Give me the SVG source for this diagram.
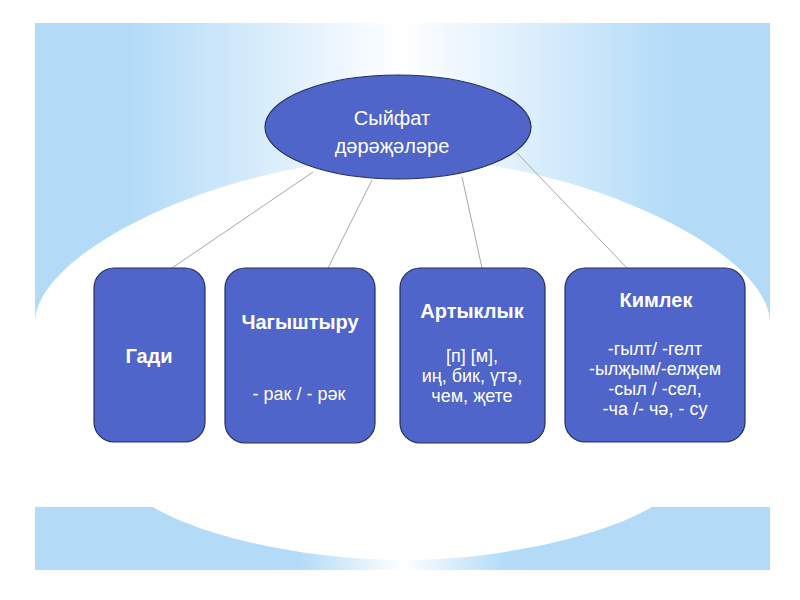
<svg xmlns="http://www.w3.org/2000/svg" width="800" height="600" viewBox="0 0 800 600">
<defs>
<linearGradient id="gTop" gradientUnits="userSpaceOnUse" x1="35" y1="0" x2="770" y2="0">
<stop offset="0" stop-color="#b3dbf8"/>
<stop offset="0.13" stop-color="#b3dbf8"/>
<stop offset="0.5" stop-color="#ffffff"/>
<stop offset="0.87" stop-color="#b3dbf8"/>
<stop offset="1" stop-color="#b3dbf8"/>
</linearGradient>
<linearGradient id="gBot" gradientUnits="userSpaceOnUse" x1="35" y1="0" x2="770" y2="0">
<stop offset="0" stop-color="#b3dbf8"/>
<stop offset="0.36" stop-color="#b3dbf8"/>
<stop offset="0.5" stop-color="#ffffff"/>
<stop offset="0.64" stop-color="#b3dbf8"/>
<stop offset="1" stop-color="#b3dbf8"/>
</linearGradient>
<style>
.node{fill:#4f65c9;stroke:#25305f;stroke-width:1.2}
.t{font-family:"Liberation Sans",Arial,sans-serif;fill:#ffffff;text-anchor:middle}
.b{font-weight:bold;font-size:20px}
.n{font-size:18px}
.e{font-size:20px}
.conn line{stroke:#a3a8b0;stroke-width:1}
</style>
</defs>
<rect width="800" height="600" fill="#ffffff"/>
<g id="background">
<rect x="35" y="23" width="735" height="300" fill="url(#gTop)"/>
<rect x="35" y="507" width="735" height="63" fill="url(#gBot)"/>
<path d="M35 323 C35 250 230 158 402 158 C574 158 770 250 770 323 L770 507 L652 507 C604 535 504 560 402 560 C300 560 200 535 153 507 L35 507 Z" fill="#ffffff"/>
</g>
<g id="connectors" class="conn">
<line x1="313" y1="172" x2="172" y2="268"/>
<line x1="372" y1="180" x2="328" y2="268"/>
<line x1="462" y1="177" x2="482" y2="268"/>
<line x1="517" y1="153" x2="627" y2="268"/>
</g>
<g id="root">
<ellipse class="node" cx="398" cy="127" rx="133" ry="52"/>
<text class="t e" x="392" y="125">Сыйфат</text>
<text class="t e" x="392" y="153">дәрәҗәләре</text>
</g>
<g id="gadi">
<rect class="node" x="94" y="268" width="111" height="174" rx="20"/>
<text class="t b" x="149" y="363">Гади</text>
</g>
<g id="chagyshtyru">
<rect class="node" x="225" y="268" width="150" height="175" rx="20"/>
<text class="t b" x="300" y="329">Чагыштыру</text>
<text class="t n" x="299" y="400">- рак / - рәк</text>
</g>
<g id="artyklyk">
<rect class="node" x="400" y="268" width="145" height="175" rx="20"/>
<text class="t b" x="472" y="318">Артыклык</text>
<text class="t n" x="472" y="362">[п] [м],</text>
<text class="t n" x="472" y="382">иң, бик, үтә,</text>
<text class="t n" x="472" y="402">чем, җете</text>
</g>
<g id="kimlek">
<rect class="node" x="565" y="268" width="180" height="174" rx="20"/>
<text class="t b" x="656" y="307">Кимлек</text>
<text class="t n" x="655" y="355">-гылт/ -гелт</text>
<text class="t n" x="655" y="375">-ылҗым/-елҗем</text>
<text class="t n" x="655" y="395">-сыл / -сел,</text>
<text class="t n" x="655" y="415">-ча /- чә, - су</text>
</g>
</svg>
